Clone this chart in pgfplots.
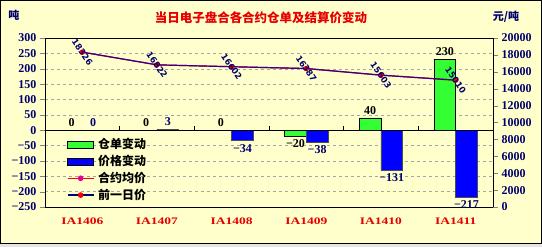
\documentclass[border=0pt]{standalone}
\usepackage{fontspec}
\usepackage{graphicx}
\usepackage{pgfplots}
\pgfplotsset{compat=1.18}
\setmainfont{Liberation Serif}
\newfontfamily\catfont{Liberation Serif}[FakeStretch=1.35]
\newfontfamily\rotfont{DejaVu Sans}
\newfontfamily\cjk{Noto Sans CJK SC}
\definecolor{bg}{RGB}{255,255,204}
\definecolor{navyt}{RGB}{0,0,110}
\definecolor{barG}{RGB}{51,255,51}
\definecolor{barB}{RGB}{0,0,255}
\definecolor{titler}{RGB}{230,0,0}
\newcommand\barlab[1]{\pgfmathtruncatemacro\tv{#1}\ifnum\tv<0 −\pgfmathtruncatemacro\uv{-\tv}\uv\else\tv\fi}
\begin{document}
\begin{tikzpicture}[x=1pt,y=1pt]
\useasboundingbox (0,0) rectangle (542,247);
\fill[gray!20] (0,0) rectangle (542,4);
\filldraw[fill=bg,draw=black,line width=1pt] (0.5,4) rectangle (541.5,246.5);
\node[font=\cjk\bfseries\fontsize{12.5}{13}\selectfont,text=titler] at (261,229) {当日电子盘合各合约仓单及结算价变动};
\node[font=\cjk\bfseries\fontsize{11}{12}\selectfont,text=navyt] at (14,232) {吨};
\node[font=\cjk\bfseries\fontsize{11}{12}\selectfont,text=navyt] at (506,230) {元/吨};
\begin{axis}[
  at={(45pt,40pt)}, anchor=south west,
  scale only axis, width=448pt, height=169pt,
  xmin=-0.5, xmax=5.5, ymin=-250, ymax=300,
  ybar=0pt, bar width=0.29,
  xtick={0,...,5},
  xticklabels={IA1406,IA1407,IA1408,IA1409,IA1410,IA1411},
  x tick label style={font=\catfont\bfseries\fontsize{10}{10}\selectfont, text=titler, yshift=-2pt},
  major x tick style={draw=none},
  ytick={-250,-200,...,300},
  yticklabels={−250,−200,−150,−100,−50,0,50,100,150,200,250,300},
  y tick label style={font=\bfseries\fontsize{12}{12}\selectfont, text=navyt},
  tick align=outside, major tick length=5pt,
  ymajorgrids, grid style={dashed, gray!70},
  axis line style={black},
  ytick pos=left,
  clip=false,
  visualization depends on={rawy \as \yv},
  point meta=y,
  nodes near coords={\barlab{\yv}},
]
\addplot[fill=barG, draw=black,
  every node near coord/.append style={font=\bfseries\fontsize{12}{12}\selectfont, text=black}]
  coordinates {(0,0) (1,0) (2,0) (3,-20) (4,40) (5,230)};
\addplot[fill=barB, draw=black!70,
  every node near coord/.append style={font=\bfseries\fontsize{12}{12}\selectfont, text=navyt}]
  coordinates {(0,0) (1,3) (2,-34) (3,-38) (4,-131) (5,-217)};
\draw[black, line width=0.8pt] (axis cs:-0.5,0) -- (axis cs:5.5,0);
\draw[black] (axis cs:0.5,0) -- (axis cs:0.5,13);
\draw[black] (axis cs:1.5,0) -- (axis cs:1.5,13);
\draw[black] (axis cs:2.5,0) -- (axis cs:2.5,13);
\draw[black] (axis cs:3.5,0) -- (axis cs:3.5,13);
\draw[black] (axis cs:4.5,0) -- (axis cs:4.5,13);
\end{axis}
\begin{axis}[
  at={(45pt,40pt)}, anchor=south west,
  scale only axis, width=448pt, height=169pt,
  xmin=-0.5, xmax=5.5, ymin=0, ymax=20000,
  axis x line=none, axis y line*=right,
  ytick={0,2000,...,20000}, scaled y ticks=false,
  yticklabels={0,2000,4000,6000,8000,10000,12000,14000,16000,18000,20000},
  y tick label style={font=\bfseries\fontsize{12}{12}\selectfont, text=navyt},
  tick align=outside, major tick length=5pt,
  axis line style={black},
  clip=false,
  legend style={draw=none, fill=none, at={(0.042,0.43)}, anchor=north west,
    font=\cjk\bfseries\fontsize{12}{12}\selectfont, row sep=1pt,
    /tikz/every odd column/.append style={column sep=2pt}},
  legend cell align=left,
]
\addlegendimage{legend image code/.code={\draw[fill=barG, draw=black] (0pt,-3.5pt) rectangle (26pt,3.5pt);}}
\addlegendentry{仓单变动}
\addlegendimage{legend image code/.code={\draw[fill=barB, draw=black] (0pt,-3.5pt) rectangle (26pt,3.5pt);}}
\addlegendentry{价格变动}
\addplot[red, line width=1.2pt, mark=*, mark size=2pt, mark options={fill=magenta, draw=magenta},
  legend image code/.code={\draw[red, line width=1.2pt] (0pt,0pt) -- (26pt,0pt); \fill[magenta] (13pt,0pt) circle (2.2pt);}]
  coordinates {(0,18326) (1,16822) (2,16602) (3,16387) (4,15603) (5,15010)};
\addlegendentry{合约均价}
\addplot[navyt!80!magenta, line width=1.2pt, mark=*, mark size=2pt, mark options={fill=red, draw=red},
  legend image code/.code={\draw[navyt, line width=1.2pt] (0pt,0pt) -- (26pt,0pt); \fill[red] (13pt,0pt) circle (2.2pt);}]
  coordinates {(0,18326) (1,16822) (2,16602) (3,16387) (4,15603) (5,15010)};
\addlegendentry{前一日价}
\addplot[only marks, mark=none, forget plot,
  point meta=explicit symbolic, nodes near coords={\rotatebox{-55}{\pgfplotspointmeta}},
  every node near coord/.append style={anchor=center, inner sep=0pt, font=\rotfont\bfseries\fontsize{8.5}{9}\selectfont, text=navyt}]
  coordinates {(0,18326)[18326] (1,16822)[16822] (2,16602)[16602] (3,16387)[16387] (4,15603)[15603] (5,15010)[15010]};
\end{axis}
\end{tikzpicture}
\end{document}
